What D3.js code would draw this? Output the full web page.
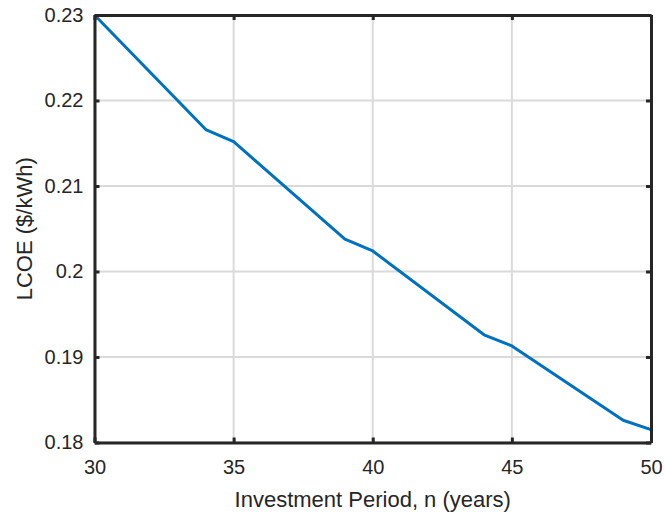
<!DOCTYPE html>
<html>
<head>
<meta charset="utf-8">
<script src="https://cdn.jsdelivr.net/npm/d3@7"></script>
<style>
  html, body { margin: 0; padding: 0; background: #fff; }
  svg { display: block; }
  text { font-family: "Liberation Sans", Arial, Helvetica, sans-serif; fill: #262626; }
</style>
</head>
<body>
<svg id="chart" width="665" height="520"></svg>
<script>
// Levelized cost of energy versus investment period
const years = [30, 34, 35, 39, 40, 44, 45, 49, 50];
const lcoe  = [0.2300, 0.2166, 0.2152, 0.2038, 0.2024, 0.1926, 0.1913, 0.1826, 0.1815];
const xTicks = [30, 35, 40, 45, 50];
const yTicks = [0.18, 0.19, 0.20, 0.21, 0.22, 0.23];
const yTickLabels = ["0.18", "0.19", "0.2", "0.21", "0.22", "0.23"];

const svg = d3.select("#chart");
const plotL = 94.5, plotR = 651, plotT = 15, plotB = 442.5;

const x = d3.scaleLinear().domain([30, 50]).range([plotL, plotR]);
const y = d3.scaleLinear().domain([0.18, 0.23]).range([plotB, plotT]);

const axisColor = "#262626";
const tickLen = 5;

// grid lines
const grid = svg.append("g");
grid.selectAll(".gx").data(xTicks).join("line")
  .attr("x1", d => x(d)).attr("x2", d => x(d))
  .attr("y1", plotT).attr("y2", plotB)
  .attr("stroke", "#dadada").attr("stroke-width", 2);
grid.selectAll(".gy").data(yTicks).join("line")
  .attr("x1", plotL).attr("x2", plotR)
  .attr("y1", d => y(d)).attr("y2", d => y(d))
  .attr("stroke", "#dadada").attr("stroke-width", 2);

// data line
const line = d3.line().x((d, i) => x(years[i])).y(d => y(d));
svg.append("path")
  .datum(lcoe)
  .attr("d", line)
  .attr("fill", "none")
  .attr("stroke", "#0072BD")
  .attr("stroke-width", 3)
  .attr("stroke-linejoin", "round");

// axes with inward ticks on all four sides
const xAxisB = d3.axisBottom(x).tickValues(xTicks).tickSizeInner(-tickLen).tickSizeOuter(0).tickPadding(17).tickFormat(d3.format("d"));
const xAxisT = d3.axisTop(x).tickValues(xTicks).tickSizeInner(-tickLen).tickSizeOuter(0).tickFormat("");
const yAxisL = d3.axisLeft(y).tickValues(yTicks).tickSizeInner(-tickLen).tickSizeOuter(0).tickPadding(11)
  .tickFormat((d, i) => yTickLabels[i]);
const yAxisR = d3.axisRight(y).tickValues(yTicks).tickSizeInner(-tickLen).tickSizeOuter(0).tickFormat("");

function style(g) {
  g.selectAll("path").attr("stroke", axisColor).attr("stroke-width", 3);
  g.selectAll("line").attr("stroke", axisColor).attr("stroke-width", 3);
  g.selectAll("text").attr("fill", axisColor).style("font-size", "20px")
    .style("font-family", "'Liberation Sans', Arial, Helvetica, sans-serif");
}

svg.append("g").attr("transform", `translate(0,${plotB})`).call(xAxisB).call(style);
svg.append("g").attr("transform", `translate(0,${plotT})`).call(xAxisT).call(style);
svg.append("g").attr("transform", `translate(${plotL},0)`).call(yAxisL).call(style);
svg.append("g").attr("transform", `translate(${plotR},0)`).call(yAxisR).call(style);

// axis titles
svg.append("text")
  .attr("x", (plotL + plotR) / 2).attr("y", 507)
  .attr("text-anchor", "middle")
  .style("font-size", "22px")
  .text("Investment Period, n (years)");

svg.append("text")
  .attr("transform", `translate(32,${(plotT + plotB) / 2}) rotate(-90)`)
  .attr("text-anchor", "middle")
  .style("font-size", "22px")
  .text("LCOE ($/kWh)");
</script>
</body>
</html>
